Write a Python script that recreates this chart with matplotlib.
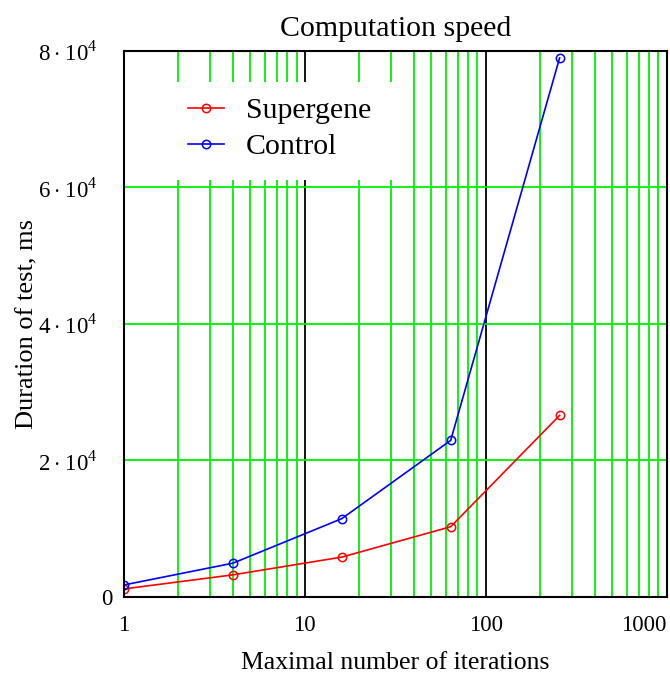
import matplotlib
matplotlib.use('Agg')
import matplotlib.pyplot as plt
import matplotlib.transforms as mtransforms
from matplotlib.patches import Rectangle
from matplotlib.ticker import FixedLocator, NullFormatter

plt.rcParams['font.family'] = ['Liberation Serif', 'DejaVu Serif']
plt.rcParams['mathtext.fontset'] = 'custom'
plt.rcParams['mathtext.rm'] = 'Liberation Serif'

# Data
iterations = [1, 4, 16, 64, 256]
supergene = [1180, 3240, 5840, 10290, 26600]
control = [1760, 4950, 11470, 22940, 78970]

x_ticks = [1, 10, 100, 1000]
x_tick_labels = ['1', '10', '100', '1000']
y_ticks = [0, 20000, 40000, 60000, 80000]
y_tick_labels = ['0', r'$2\cdot10^{4}$', r'$4\cdot10^{4}$', r'$6\cdot10^{4}$', r'$8\cdot10^{4}$']

fig = plt.figure(figsize=(6.7, 6.75), dpi=100)
ax = fig.add_axes([0.185, 0.1156, 0.810, 0.809])

ax.set_xscale('log')
ax.set_xlim(1, 1000)
ax.set_ylim(0, 80000)

# grid: green minor verticals, black decade lines, green horizontals
green = '#00f000'
minor = [m * 10 ** d for d in range(0, 3) for m in range(2, 10)]
for v in minor:
    ax.axvline(v, color=green, lw=1.3, zorder=1)
for v in x_ticks[1:-1]:
    ax.axvline(v, color='black', lw=1.3, zorder=1)
for h in y_ticks[1:-1]:
    ax.axhline(h, color=green, lw=1.3, zorder=1)

ax.plot(iterations, supergene, color='#ff0000', lw=1.2, marker='o', ms=6,
        mfc='none', mew=1.1, label='Supergene', zorder=3)
ax.plot(iterations, control, color='#0000ff', lw=1.2, marker='o', ms=6,
        mfc='none', mew=1.1, label='Control', zorder=3)

ax.xaxis.set_major_locator(FixedLocator(x_ticks))
ax.xaxis.set_minor_locator(FixedLocator(minor))
ax.xaxis.set_minor_formatter(NullFormatter())
ax.set_xticklabels(x_tick_labels)
ax.set_yticks(y_ticks)
ax.set_yticklabels(y_tick_labels)
ax.tick_params(which='both', length=0, labelsize=16.5)
ax.tick_params(axis='x', pad=13)
ax.tick_params(axis='y', pad=19)
ax.get_xticklabels()[-1].set_horizontalalignment('right')

# the "0" label sits closer to the axis than the power labels
zero = ax.get_yticklabels()[0]
zero.set_transform(zero.get_transform() +
                   mtransforms.ScaledTranslation(0.15, 0, fig.dpi_scale_trans))

for s in ax.spines.values():
    s.set_linewidth(1.5)
    s.set_zorder(4)

ax.set_title('Computation speed', fontsize=21.5, pad=11)
ax.set_xlabel('Maximal number of iterations', fontsize=18.5)
ax.xaxis.set_label_coords(0.5, -0.1)
ax.set_ylabel('Duration of test, ms', fontsize=19)
ax.yaxis.set_label_coords(-0.157, 0.5)

# white box behind the legend hides the grid there
ax.add_patch(Rectangle((0.0755, 0.764), 0.4325, 0.179, transform=ax.transAxes,
                       facecolor='white', edgecolor='none', zorder=2))
leg = ax.legend(loc='upper left', bbox_to_anchor=(0.118, 0.915), fontsize=21.5,
                frameon=False, handlelength=1.2, handletextpad=0.75,
                borderpad=0, borderaxespad=0, labelspacing=0.3)
leg.set_zorder(5)

plt.savefig('out.png', dpi=100)
